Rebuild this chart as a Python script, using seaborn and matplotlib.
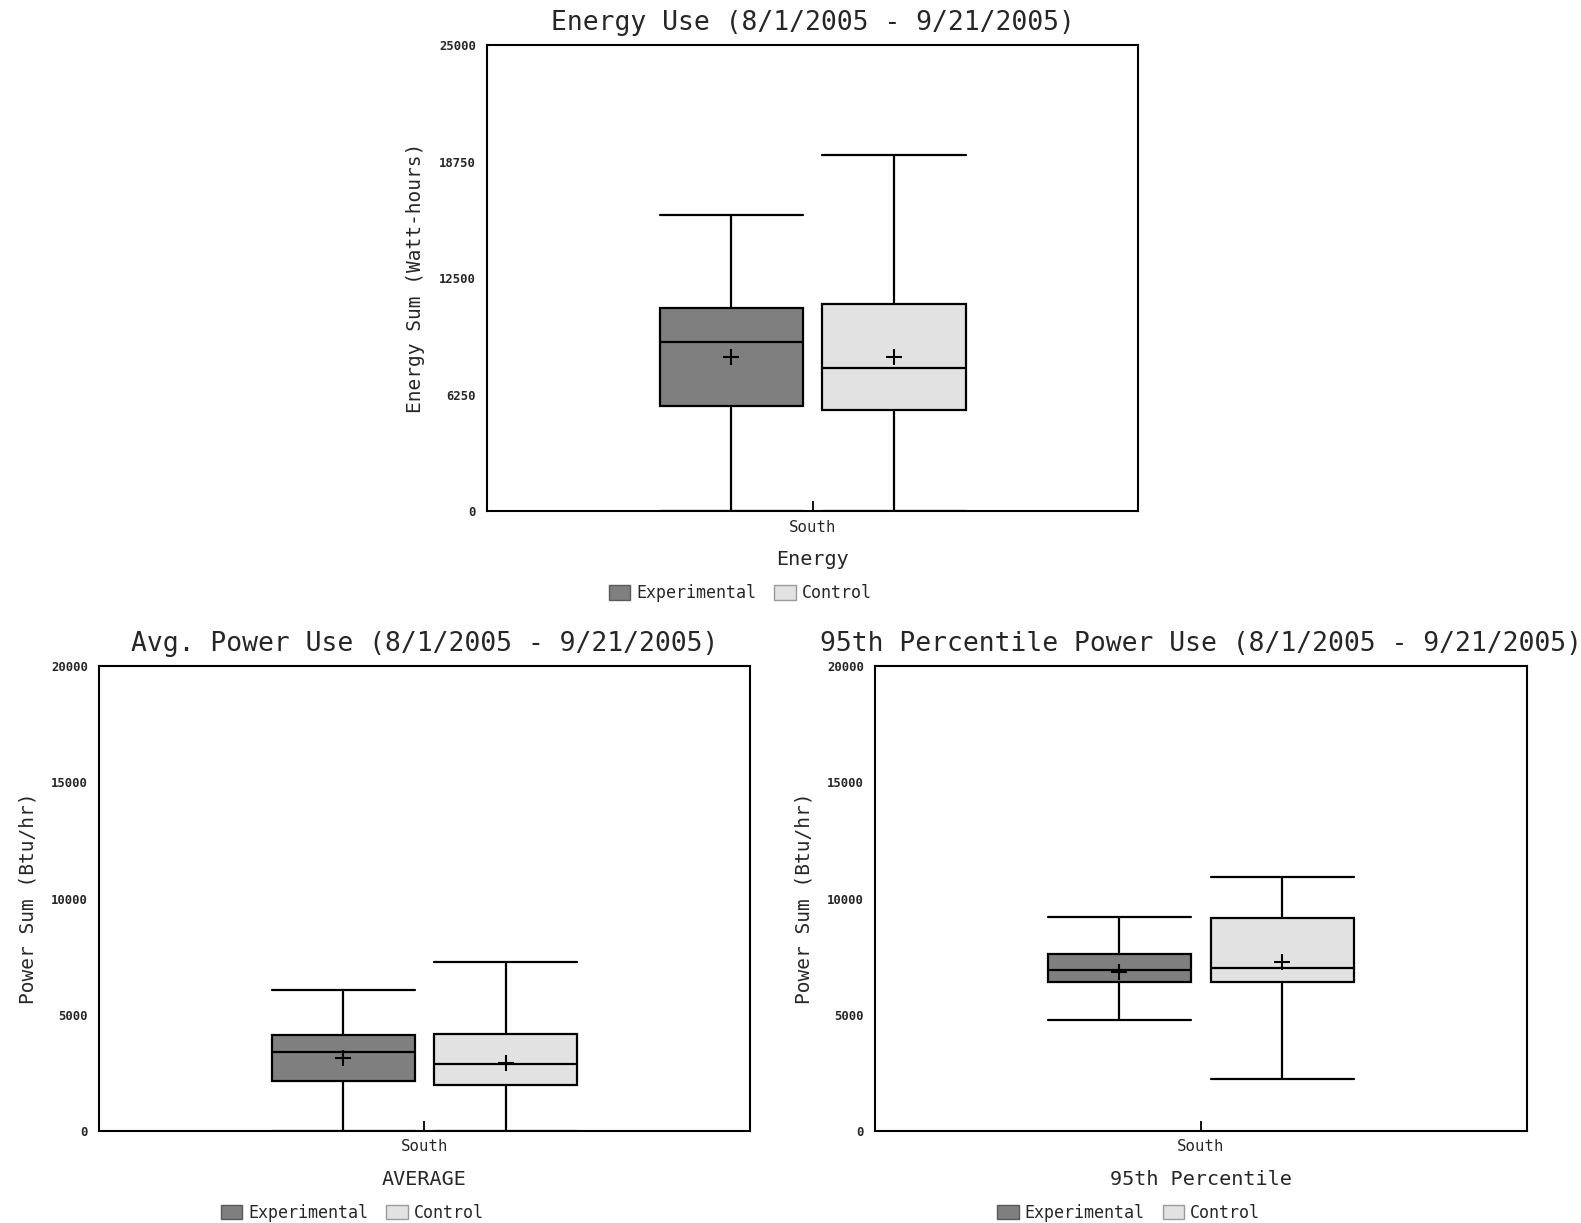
import numpy as np
import pandas as pd
import seaborn as sns
import matplotlib
matplotlib.use("Agg")
import matplotlib.pyplot as plt
from matplotlib.patches import Patch

# ---------------- data ----------------
groups = ["Experimental", "Control"]
region = "South"

energy_min = [0, 0]
energy_q1 = [5660, 5430]
energy_med = [9100, 7680]
energy_q3 = [10900, 11110]
energy_max = [15900, 19110]
energy_mean = [8290, 8290]

avg_min = [0, 0]
avg_q1 = [2150, 1970]
avg_med = [3420, 2890]
avg_q3 = [4120, 4180]
avg_max = [6070, 7270]
avg_mean = [3140, 2940]

p95_min = [4780, 2230]
p95_q1 = [6400, 6400]
p95_med = [6930, 7030]
p95_q3 = [7600, 9160]
p95_max = [9220, 10940]
p95_mean = [6860, 7270]

energy_ticks = [0, 6250, 12500, 18750, 25000]
power_ticks = [0, 5000, 10000, 15000, 20000]

colors = ["#7f7f7f", "#e2e2e2"]
edge_colors = ["#5a5a5a", "#9a9a9a"]

FONT = "DejaVu Sans Mono"
sns.set_theme(style="white")
plt.rcParams["font.family"] = [FONT, "DejaVu Sans"]


def frame(mins, q1s, meds, q3s, maxs):
    rows = []
    for g, a, b, c, d, e in zip(groups, mins, q1s, meds, q3s, maxs):
        for v in (a, b, c, d, e):
            rows.append({"region": region, "group": g, "value": v})
    return pd.DataFrame(rows)


def mean_frame(means):
    return pd.DataFrame({"region": [region] * len(groups), "group": groups, "value": means})


def panel(ax, df, dm, title, ylabel, xlabel, yticks):
    sns.boxplot(data=df, x="region", y="value", hue="group", hue_order=groups,
                palette=colors, whis=np.inf, width=0.8, gap=0.12,
                linecolor="black", linewidth=1.6, capwidths=0.352,
                legend=False, ax=ax)
    sns.stripplot(data=dm, x="region", y="value", hue="group", hue_order=groups,
                  palette=["black", "black"], dodge=True, jitter=False,
                  marker="+", size=12, linewidth=1.5, legend=False, ax=ax, zorder=6)
    ax.set_xlim(-0.8, 0.8)
    ax.set_ylim(yticks[0], yticks[-1])
    ax.set_yticks(yticks)
    ax.set_yticklabels([str(t) for t in yticks], fontsize=8.8, fontweight="bold")
    ax.tick_params(axis="y", length=0, pad=8)
    ax.tick_params(axis="x", direction="in", length=7, width=1.3, color="black",
                   labelsize=11.3, pad=6, bottom=True)
    ax.set_title(title, fontsize=19, pad=11)
    ax.set_ylabel(ylabel, fontsize=14, labelpad=10)
    ax.set_xlabel(xlabel, fontsize=14.5, labelpad=11)
    for s in ax.spines.values():
        s.set_visible(True)
        s.set_color("black")
        s.set_linewidth(1.5)
    handles = [Patch(facecolor=c, edgecolor=e, linewidth=1.0) for c, e in zip(colors, edge_colors)]
    ax.legend(handles, groups, loc="center", bbox_to_anchor=(0.389, -0.176), ncol=2,
              frameon=False, fontsize=12, handlelength=1.3, handleheight=0.95,
              handletextpad=0.36, columnspacing=1.08, borderaxespad=0)


fig = plt.figure(figsize=(15.81, 12.23), dpi=100)
ax_top = fig.add_axes([0.308, 0.582, 0.412, 0.381])
ax_bl = fig.add_axes([0.0626, 0.0752, 0.4118, 0.380])
ax_br = fig.add_axes([0.5534, 0.0752, 0.4124, 0.380])

panel(ax_top, frame(energy_min, energy_q1, energy_med, energy_q3, energy_max),
      mean_frame(energy_mean), "Energy Use (8/1/2005 - 9/21/2005)",
      "Energy Sum (Watt-hours)", "Energy", energy_ticks)
panel(ax_bl, frame(avg_min, avg_q1, avg_med, avg_q3, avg_max),
      mean_frame(avg_mean), "Avg. Power Use (8/1/2005 - 9/21/2005)",
      "Power Sum (Btu/hr)", "AVERAGE", power_ticks)
panel(ax_br, frame(p95_min, p95_q1, p95_med, p95_q3, p95_max),
      mean_frame(p95_mean), "95th Percentile Power Use (8/1/2005 - 9/21/2005)",
      "Power Sum (Btu/hr)", "95th Percentile", power_ticks)

fig.savefig("out.png", dpi=100, facecolor="white")
